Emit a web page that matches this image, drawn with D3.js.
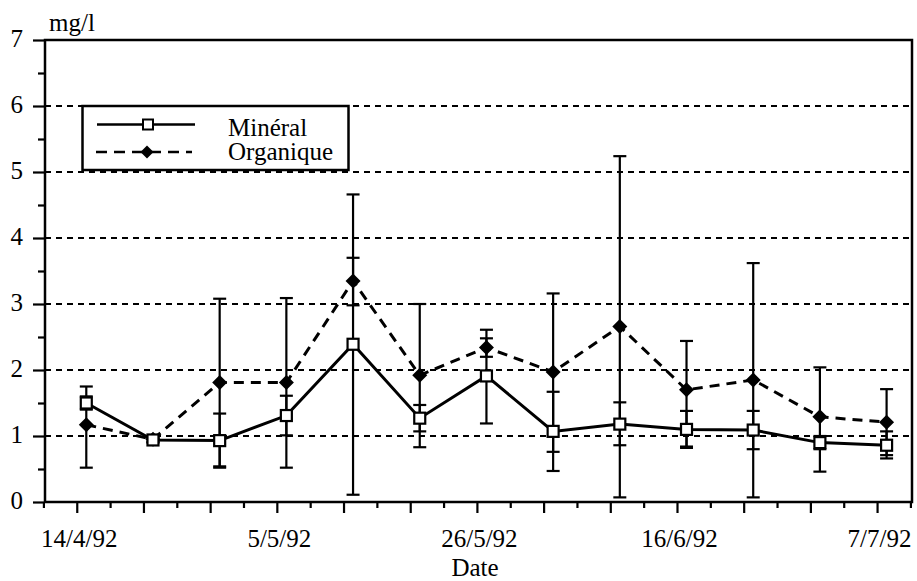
<!DOCTYPE html>
<html>
<head>
<meta charset="utf-8">
<script src="https://cdn.jsdelivr.net/npm/d3@7"></script>
<style>
  html, body { margin: 0; padding: 0; background: #fff; }
  svg { display: block; }
</style>
</head>
<body>
<svg id="chart" width="917" height="581"></svg>
<script>
// ---- data ----
const sampleDates = ["1992-04-15","1992-04-22","1992-04-29","1992-05-06","1992-05-13","1992-05-20","1992-05-27","1992-06-03","1992-06-10","1992-06-17","1992-06-24","1992-07-01","1992-07-08"];
const mineral       = [1.50, 0.94, 0.93, 1.31, 2.39, 1.27, 1.91, 1.07, 1.18, 1.10, 1.09, 0.90, 0.86];
const mineralLow    = [1.40, 0.90, 0.52, 1.01, 0.11, 1.07, 1.19, 0.47, 0.86, 0.82, 0.80, 0.80, 0.66];
const mineralHigh   = [1.60, 0.98, 1.34, 1.61, 4.66, 1.47, 2.61, 1.67, 1.51, 1.38, 1.38, 1.00, 1.07];
const organique     = [1.17, 0.95, 1.81, 1.81, 3.35, 1.92, 2.34, 1.97, 2.66, 1.70, 1.85, 1.29, 1.21];
const organiqueLow  = [0.52, 0.91, 0.54, 0.52, 2.98, 0.83, 2.20, 0.76, 0.07, 0.84, 0.07, 0.46, 0.71];
const organiqueHigh = [1.75, 0.99, 3.08, 3.09, 3.70, 3.00, 2.48, 3.16, 5.24, 2.44, 3.62, 2.04, 1.71];
const xTickLabels = ["14/4/92","5/5/92","26/5/92","16/6/92","7/7/92"];
const xLabelDates = ["1992-04-14","1992-05-05","1992-05-26","1992-06-16","1992-07-07"];
const yTicks = [0,1,2,3,4,5,6,7];
const yMinorTicks = [0.5,1.5,2.5,3.5,4.5,5.5,6.5];
const gridValues = [1,2,3,4,5,6];
const seriesNames = ["Minéral","Organique"];
const yUnit = "mg/l";
const xTitle = "Date";

// ---- setup ----
const FONT = '"Liberation Serif", "Times New Roman", Times, serif';
const parse = d3.utcParse("%Y-%m-%d");
const svg = d3.select("#chart");
const L = 45, R = 912, T = 40, B = 502;
const x = d3.scaleUtc()
  .domain([new Date(Date.UTC(1992,3,10,16)), new Date(Date.UTC(1992,6,10,16))])
  .range([L, R]);
const y = d3.scaleLinear().domain([0,7]).range([B, T]);

const majorTicks = d3.utcTuesday.range(new Date(Date.UTC(1992,3,14)), new Date(Date.UTC(1992,6,8)));
const minorTicks = majorTicks.map(d => d3.utcHour.offset(d, -84)).concat([d3.utcHour.offset(majorTicks[majorTicks.length-1], 84)]);
const labelMap = new Map(xLabelDates.map((d,i) => [+parse(d), xTickLabels[i]]));

// gridlines
svg.append("g").selectAll("line").data(gridValues).join("line")
  .attr("x1", L).attr("x2", R)
  .attr("y1", d => y(d)).attr("y2", d => y(d))
  .attr("stroke", "#000").attr("stroke-width", 2)
  .attr("stroke-dasharray", "6,5");

// axes
const axisStyle = g => {
  g.attr("font-family", FONT).attr("font-size", 25);
  g.select(".domain").remove();
  g.selectAll(".tick line").attr("stroke", "#000").attr("stroke-width", 2.2);
  g.selectAll("text").attr("fill", "#000");
};
svg.append("g").attr("transform", `translate(0,${B})`)
  .call(d3.axisBottom(x).tickValues(minorTicks).tickSize(6).tickFormat(""))
  .call(axisStyle);
const xAx = svg.append("g").attr("transform", `translate(0,${B})`)
  .call(d3.axisBottom(x).tickValues(majorTicks).tickSize(11)
    .tickFormat(d => labelMap.get(+d) || ""))
  .call(axisStyle);
xAx.selectAll("text").attr("y", 45).attr("dy", 0).attr("dx", 2);

svg.append("g").attr("transform", `translate(${L},0)`)
  .call(d3.axisLeft(y).tickValues(yMinorTicks).tickSize(7).tickFormat(""))
  .call(axisStyle);
const yAx = svg.append("g").attr("transform", `translate(${L},0)`)
  .call(d3.axisLeft(y).tickValues(yTicks).tickSize(12).tickPadding(10).tickFormat(d3.format("d")))
  .call(axisStyle);
yAx.selectAll("text").attr("dy", 0).attr("y", 6);

// frame
svg.append("rect").attr("x", L).attr("y", T).attr("width", R - L).attr("height", B - T)
  .attr("fill", "none").attr("stroke", "#000").attr("stroke-width", 2.5);

// data
const pts = sampleDates.map((d,i) => ({
  date: parse(d),
  m: mineral[i], mLo: mineralLow[i], mHi: mineralHigh[i],
  o: organique[i], oLo: organiqueLow[i], oHi: organiqueHigh[i]
}));

// error bars
function errorBars(lo, hi) {
  const g = svg.append("g").attr("stroke", "#000").attr("stroke-width", 2.2);
  g.selectAll("line.v").data(pts).join("line").attr("class","v")
    .attr("x1", d => x(d.date)).attr("x2", d => x(d.date))
    .attr("y1", d => y(d[lo])).attr("y2", d => y(d[hi]));
  [lo, hi].forEach(k => {
    g.selectAll("line.c" + k).data(pts).join("line").attr("class", "c" + k)
      .attr("x1", d => x(d.date) - 6.5).attr("x2", d => x(d.date) + 6.5)
      .attr("y1", d => y(d[k])).attr("y2", d => y(d[k]));
  });
}
errorBars("oLo", "oHi");
errorBars("mLo", "mHi");

// lines
svg.append("path").datum(pts)
  .attr("d", d3.line().x(d => x(d.date)).y(d => y(d.o)))
  .attr("fill", "none").attr("stroke", "#000").attr("stroke-width", 3)
  .attr("stroke-dasharray", "10,7");
svg.append("path").datum(pts)
  .attr("d", d3.line().x(d => x(d.date)).y(d => y(d.m)))
  .attr("fill", "none").attr("stroke", "#000").attr("stroke-width", 3);

// markers
const diamond = (cx, cy, r) => `M${cx},${cy-r}L${cx+r},${cy}L${cx},${cy+r}L${cx-r},${cy}Z`;
svg.append("g").selectAll("path").data(pts).join("path")
  .attr("d", d => diamond(x(d.date), y(d.o), 7.5)).attr("fill", "#000");
svg.append("g").selectAll("rect").data(pts).join("rect")
  .attr("x", d => x(d.date) - 5.5).attr("y", d => y(d.m) - 5.5)
  .attr("width", 11).attr("height", 11)
  .attr("fill", "#fff").attr("stroke", "#000").attr("stroke-width", 2.2);

// legend
const lg = svg.append("g");
lg.append("rect").attr("x", 82.5).attr("y", 106).attr("width", 266).attr("height", 64)
  .attr("fill", "#fff").attr("stroke", "#000").attr("stroke-width", 2.5);
lg.append("line").attr("x1", 97).attr("x2", 195).attr("y1", 124.5).attr("y2", 124.5)
  .attr("stroke", "#000").attr("stroke-width", 2.5);
lg.append("rect").attr("x", 143).attr("y", 119.5).attr("width", 10).attr("height", 10)
  .attr("fill", "#fff").attr("stroke", "#000").attr("stroke-width", 2);
lg.append("line").attr("x1", 96).attr("x2", 192).attr("y1", 152).attr("y2", 152)
  .attr("stroke", "#000").attr("stroke-width", 2.5).attr("stroke-dasharray", "11,7");
lg.append("path").attr("d", diamond(147, 152, 6.5)).attr("fill", "#000");
lg.selectAll("text").data(seriesNames).join("text")
  .attr("x", 228).attr("y", (d,i) => i === 0 ? 135.5 : 160)
  .attr("font-family", FONT).attr("font-size", 25).attr("fill", "#000").text(d => d);

// titles
svg.append("text").attr("x", 49).attr("y", 31).attr("font-family", FONT).attr("font-size", 25).text(yUnit);
svg.append("text").attr("x", 475).attr("y", 576).attr("text-anchor", "middle")
  .attr("font-family", FONT).attr("font-size", 25).text(xTitle);
</script>
</body>
</html>
